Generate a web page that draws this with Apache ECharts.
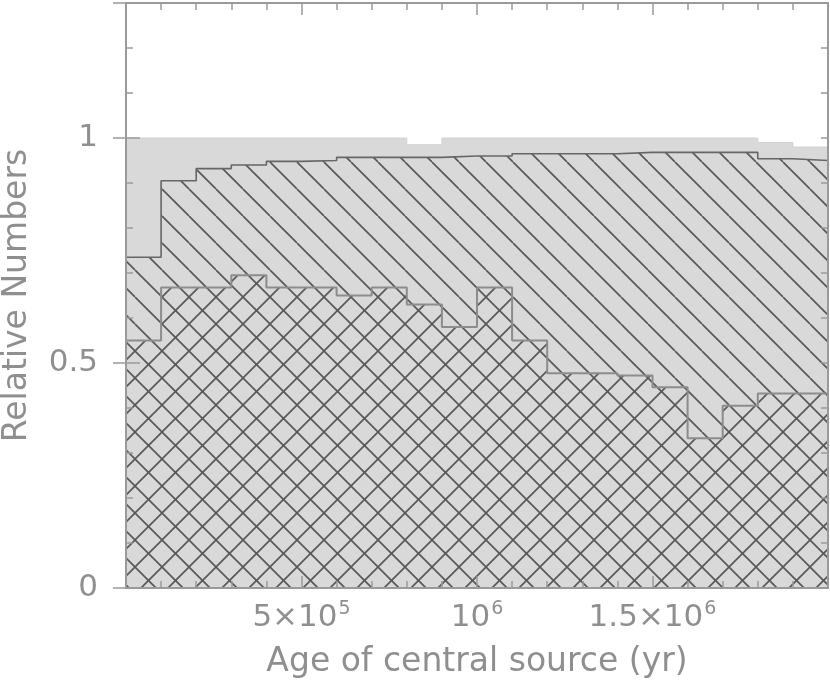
<!DOCTYPE html>
<html>
<head>
<meta charset="utf-8">
<script src="https://cdn.jsdelivr.net/npm/echarts@6/dist/echarts.min.js"></script>
<style>
html,body{margin:0;padding:0;background:#fff;}
#c{width:830px;height:681px;}
</style>
</head>
<body>
<div id="c"></div>
<script>
// Bin starts (yr) and final edge
const binStarts = [0, 100000, 200000, 300000, 400000, 500000, 600000, 700000, 800000, 900000,
  1000000, 1100000, 1200000, 1300000, 1400000, 1500000, 1600000, 1700000, 1800000, 1900000];
const binEnd = 2000000;

// Relative numbers per bin
const totalFrac = [1.0, 1.0, 1.0, 1.0, 1.0, 1.0, 1.0, 1.0, 0.985, 1.0,
  1.0, 1.0, 1.0, 1.0, 1.0, 1.0, 1.0, 1.0, 0.99, 0.98];
const hatchFrac = [0.735, 0.905, 0.932, 0.940, 0.948, 0.950, 0.957, 0.957, 0.957, 0.960,
  0.960, 0.965, 0.965, 0.965, 0.968, 0.968, 0.968, 0.968, 0.954, 0.950];
const crossFrac = [0.55, 0.668, 0.668, 0.695, 0.668, 0.668, 0.65, 0.668, 0.63, 0.58,
  0.668, 0.55, 0.477, 0.477, 0.472, 0.446, 0.333, 0.405, 0.432, 0.432];

// Tick labels
const xTickValues = [500000, 1000000, 1500000];
const xTickTexts = ['5×10{sup|5}', '10{sup|6}', '1.5×10{sup|6}'];
const yTickValues = [0, 0.5, 1];
const yTickTexts = ['0', '0.5', '1'];

const FILL = '#d9d9d9';
const HATCH = '#585858';
const TXT = '#8f8f8f';
const AX = '#9a9a9a';
const FONT = 'DejaVu Sans';

function makePattern(back, fwd) {
  const h = 27;
  const cv = document.createElement('canvas');
  cv.width = h; cv.height = h;
  const ctx = cv.getContext('2d');
  ctx.fillStyle = FILL;
  ctx.fillRect(0, 0, h, h);
  ctx.strokeStyle = HATCH;
  ctx.lineWidth = 1.7;
  for (let k = -1; k <= 1; k++) {
    if (back) { ctx.beginPath(); ctx.moveTo(k * h, 0); ctx.lineTo(k * h + h, h); ctx.stroke(); }
    if (fwd) { ctx.beginPath(); ctx.moveTo(k * h, h); ctx.lineTo(k * h + h, 0); ctx.stroke(); }
  }
  return { image: cv, repeat: 'repeat' };
}

function stepData(vals) {
  const d = binStarts.map((x, i) => [x, vals[i]]);
  d.push([binEnd, vals[vals.length - 1]]);
  return d;
}

function xLabel(v) {
  const i = xTickValues.indexOf(v);
  return i >= 0 ? xTickTexts[i] : '';
}
function yLabel(v) {
  const i = yTickValues.findIndex(t => Math.abs(t - v) < 1e-9);
  return i >= 0 ? yTickTexts[i] : '';
}

const baseAxis = {
  min: 0,
  axisLine: { show: true, onZero: false, lineStyle: { color: AX, width: 2 } },
  splitLine: { show: false },
  z: 10
};

const chart = echarts.init(document.getElementById('c'), null, { renderer: 'canvas' });
chart.setOption({
  animation: false,
  backgroundColor: '#ffffff',
  grid: { left: 126, right: 2, top: 3, bottom: 93, containLabel: false, outerBoundsMode: 'none' },
  xAxis: [
    Object.assign({}, baseAxis, {
      type: 'value', position: 'bottom', max: binEnd, interval: 500000,
      axisTick: { show: true, inside: true, length: 12, lineStyle: { color: AX, width: 1.5 } },
      minorTick: { show: true, splitNumber: 5, length: 7, lineStyle: { color: AX, width: 1.5 } },
      axisLabel: {
        formatter: xLabel, color: TXT, fontFamily: FONT, fontSize: 31, margin: 12,
        showMinLabel: false, showMaxLabel: false,
        rich: { sup: { fontSize: 19, fontFamily: FONT, color: TXT, verticalAlign: 'bottom', padding: [0, 0, 16, 1] } }
      },
      name: 'Age of central source (yr)', nameLocation: 'middle', nameGap: 58,
      nameTextStyle: { color: TXT, fontFamily: FONT, fontSize: 33 }
    }),
    Object.assign({}, baseAxis, {
      type: 'value', position: 'top', max: binEnd, interval: 500000,
      axisTick: { show: true, inside: true, length: 12, lineStyle: { color: AX, width: 1.5 } },
      minorTick: { show: true, splitNumber: 5, length: 7, lineStyle: { color: AX, width: 1.5 } },
      axisLabel: { show: false }
    })
  ],
  yAxis: [
    Object.assign({}, baseAxis, {
      type: 'value', position: 'left', max: 1.3, interval: 0.1,
      axisTick: { show: true, inside: true, length: 7, lineStyle: { color: AX, width: 1.5 } },
      axisLabel: { show: false },
      name: 'Relative Numbers', nameLocation: 'middle', nameGap: 92, nameRotate: 90,
      nameTextStyle: { color: TXT, fontFamily: FONT, fontSize: 33 }
    }),
    Object.assign({}, baseAxis, {
      type: 'value', position: 'left', max: 1.3, interval: 0.5,
      axisLine: { show: false },
      axisTick: { show: true, inside: true, length: 14, lineStyle: { color: AX, width: 1.5 } },
      axisLabel: { formatter: yLabel, color: TXT, fontFamily: FONT, fontSize: 31, margin: 28, showMaxLabel: false }
    }),
    Object.assign({}, baseAxis, {
      type: 'value', position: 'right', max: 1.3, interval: 0.1,
      axisTick: { show: true, inside: true, length: 7, lineStyle: { color: AX, width: 1.5 } },
      axisLabel: { show: false }
    }),
    Object.assign({}, baseAxis, {
      type: 'value', position: 'right', max: 1.3, interval: 0.5,
      axisLine: { show: false },
      axisTick: { show: true, inside: true, length: 13, lineStyle: { color: AX, width: 1.5 } },
      axisLabel: { show: false }
    })
  ],
  series: [
    {
      name: 'All', type: 'line', step: 'end', data: stepData(totalFrac),
      xAxisIndex: 0, yAxisIndex: 0, symbol: 'none', z: 2,
      lineStyle: { color: '#d2d2d2', width: 1 },
      areaStyle: { color: FILL, opacity: 1 }
    },
    {
      name: 'Hatched', type: 'line', step: 'end', data: stepData(hatchFrac),
      xAxisIndex: 0, yAxisIndex: 0, symbol: 'none', z: 3,
      lineStyle: { color: '#666666', width: 1.6 },
      areaStyle: { color: makePattern(true, false), opacity: 1 }
    },
    {
      name: 'Cross', type: 'line', step: 'end', data: stepData(crossFrac),
      xAxisIndex: 0, yAxisIndex: 0, symbol: 'none', z: 4,
      lineStyle: { color: '#8c8c8c', width: 2 },
      areaStyle: { color: makePattern(true, true), opacity: 1 }
    }
  ]
});
</script>
</body>
</html>
